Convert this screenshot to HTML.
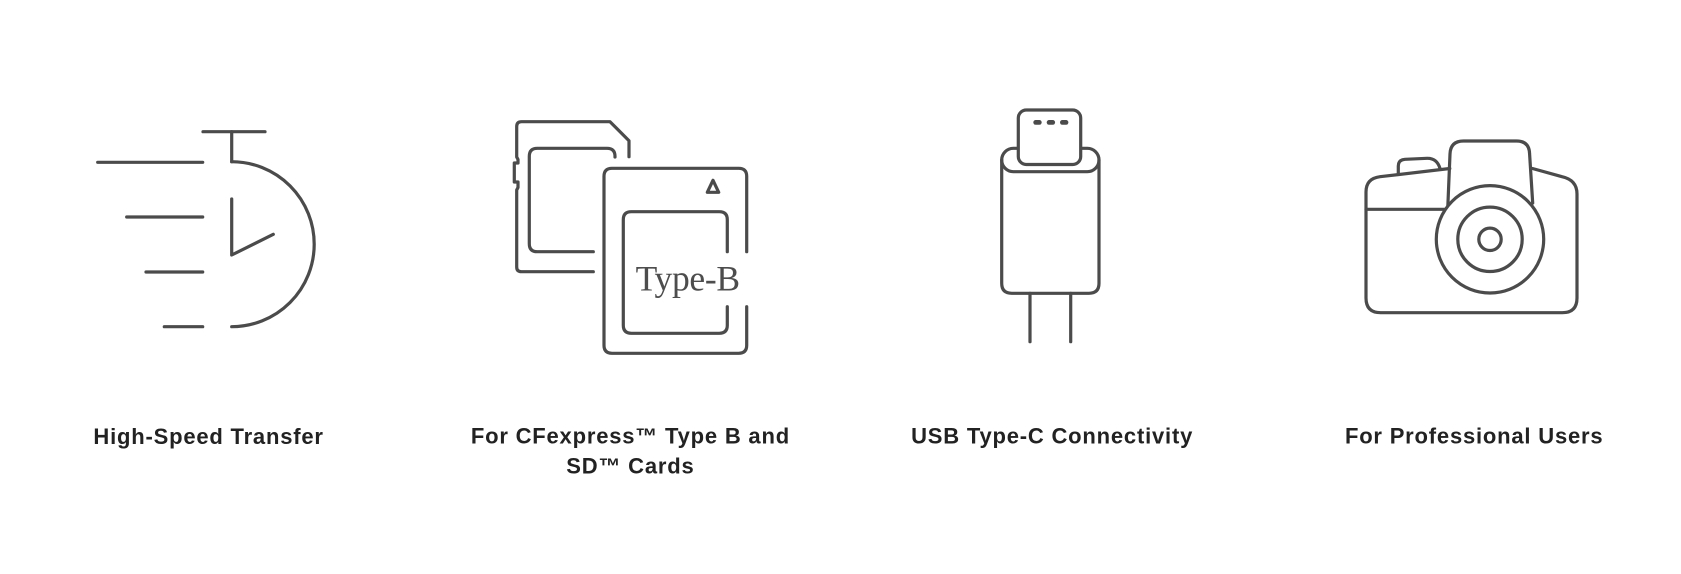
<!DOCTYPE html>
<html>
<head>
<meta charset="utf-8">
<style>
  html, body { margin: 0; padding: 0; background: #ffffff; }
  body { width: 1681px; height: 574px; overflow: hidden; }
  svg { display: block; }
  .ic { fill: none; stroke: #4b4b4b; stroke-width: 3.2; stroke-linecap: round; stroke-linejoin: round; }
  .lbl { font-family: "Liberation Sans", Arial, sans-serif; font-weight: bold; font-size: 22px; letter-spacing: 0.8px; fill: #222222; }
</style>
</head>
<body>
<svg width="1681" height="574" viewBox="0 0 1681 574" xmlns="http://www.w3.org/2000/svg">
  <rect width="1681" height="574" fill="#ffffff"/>

  <!-- Stopwatch / speed icon -->
  <g class="ic">
    <line x1="203" y1="131.7" x2="265" y2="131.7"/>
    <line x1="231.7" y1="131.7" x2="231.7" y2="161.7"/>
    <path d="M231.7 161.7 A82.5 82.5 0 0 1 231.7 326.7"/>
    <line x1="97.7" y1="162.3" x2="202.7" y2="162.3"/>
    <line x1="126.7" y1="217" x2="202.7" y2="217"/>
    <line x1="146" y1="272" x2="202.7" y2="272"/>
    <line x1="164.3" y1="326.7" x2="202.7" y2="326.7"/>
    <path d="M231.7 199 L231.7 255 L273.3 234.3"/>
  </g>

  <!-- Cards icon -->
  <g class="ic">
    <!-- SD outer -->
    <path d="M593.3 271.7 L521.5 271.7 Q516.7 271.7 516.7 267 L516.7 190 L518 187.5 L518 182 L514.3 182 L514.3 163 L518 163 L518 159.5 L516.7 157 L516.7 126.5 Q516.7 121.7 521.5 121.7 L610 121.7 L629 140.7 L629 156.7"/>
    <!-- SD inner -->
    <path d="M593.3 251.7 L537.3 251.7 Q529.3 251.7 529.3 243.7 L529.3 156.3 Q529.3 148.3 537.3 148.3 L607 148.3 Q615 148.3 615 156.3 L615 157"/>
    <!-- CF outer -->
    <path d="M746.7 251.7 L746.7 176.3 Q746.7 168.3 738.7 168.3 L612 168.3 Q604 168.3 604 176.3 L604 345.3 Q604 353.3 612 353.3 L738.7 353.3 Q746.7 353.3 746.7 345.3 L746.7 306.7"/>
    <!-- CF inner -->
    <path d="M727.3 251.7 L727.3 219.7 Q727.3 211.7 719.3 211.7 L631.3 211.7 Q623.3 211.7 623.3 219.7 L623.3 325.3 Q623.3 333.3 631.3 333.3 L719.3 333.3 Q727.3 333.3 727.3 325.3 L727.3 306.7"/>
    <!-- triangle -->
    <polygon points="713,180.3 718.7,192.3 707.3,192.3"/>
  </g>
  <text x="687.7" y="290.7" text-anchor="middle" font-family="'Liberation Serif', 'Times New Roman', serif" font-size="35.5" letter-spacing="-0.3" fill="#4d4d4d">Type-B</text>

  <!-- USB Type-C icon -->
  <g class="ic">
    <path d="M1001.7 160 L1001.7 283.3 Q1001.7 293.3 1011.7 293.3 L1089 293.3 Q1099 293.3 1099 283.3 L1099 160"/>
    <rect x="1001.7" y="148.3" width="97.3" height="23.4" rx="11.7" ry="11.7"/>
    <rect x="1018.3" y="110" width="62.4" height="54.5" rx="8" ry="8" fill="#ffffff"/>
    <line x1="1030" y1="293.3" x2="1030" y2="341.7"/>
    <line x1="1070.7" y1="293.3" x2="1070.7" y2="341.7"/>
  </g>
  <g fill="#4b4b4b">
    <rect x="1033.3" y="120" width="8.4" height="4.8" rx="2.4"/>
    <rect x="1046.7" y="120" width="8.4" height="4.8" rx="2.4"/>
    <rect x="1060" y="120" width="8.4" height="4.8" rx="2.4"/>
  </g>

  <!-- Camera icon -->
  <g class="ic">
    <path d="M1449.8 168.5 L1380 176.7 Q1366 178.5 1366 192 L1366 298 Q1366 312.7 1380.7 312.7 L1562.3 312.7 Q1577 312.7 1577 298 L1577 194 Q1577 180 1562 176.7 L1532.5 168.5"/>
    <line x1="1366" y1="209.3" x2="1446" y2="209.3"/>
    <path d="M1398.3 173.5 L1398.3 166 Q1398.3 159.8 1405 159.3 L1427 158.3 Q1437 158 1440 168.5"/>
    <path d="M1447.8 207 L1450 154 Q1450.5 141 1463.5 141 L1516.5 141 Q1529.3 141 1529.6 154 L1532.7 203"/>
    <circle cx="1490" cy="239.3" r="53.7" fill="#ffffff"/>
    <circle cx="1490" cy="239.3" r="32.2"/>
    <circle cx="1490" cy="239.3" r="11.2"/>
  </g>

  <!-- Labels -->
  <text class="lbl" x="208.6" y="444" text-anchor="middle">High-Speed Transfer</text>
  <text class="lbl" x="630.4" y="443.5" text-anchor="middle">For CFexpress™ Type B and</text>
  <text class="lbl" x="630.4" y="473.5" text-anchor="middle">SD™ Cards</text>
  <text class="lbl" x="1052.1" y="443.5" text-anchor="middle">USB Type-C Connectivity</text>
  <text class="lbl" x="1474.2" y="443.5" text-anchor="middle">For Professional Users</text>
</svg>
</body>
</html>
